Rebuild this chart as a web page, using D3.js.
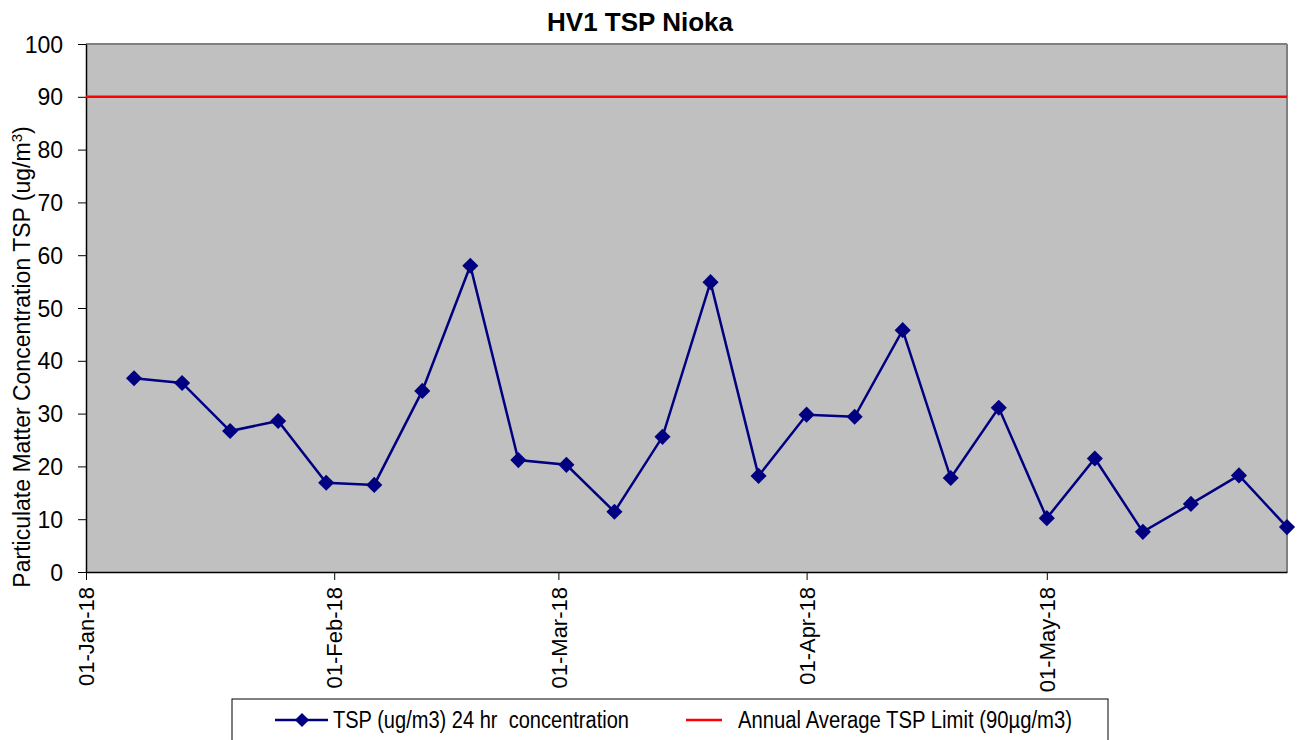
<!DOCTYPE html>
<html><head><meta charset="utf-8">
<script src="https://cdn.jsdelivr.net/npm/d3@7"></script>
<style>
body{margin:0;background:#fff;}
svg text{font-family:"Liberation Sans Narrow","Arial Narrow","Liberation Sans",Arial,sans-serif;}
</style></head>
<body><svg id="c" width="1301" height="740"></svg>
<script>
const dates = ["2018-01-07","2018-01-13","2018-01-19","2018-01-25","2018-01-31","2018-02-06","2018-02-12","2018-02-18","2018-02-24","2018-03-02","2018-03-08","2018-03-14","2018-03-20","2018-03-26","2018-04-01","2018-04-07","2018-04-13","2018-04-19","2018-04-25","2018-05-01","2018-05-07","2018-05-13","2018-05-19","2018-05-25","2018-05-31"];
const tsp = [36.7,35.8,26.7,28.6,16.9,16.5,34.3,58.0,21.2,20.3,11.4,25.6,54.9,18.2,29.8,29.4,45.8,17.8,31.1,10.2,21.5,7.6,12.9,18.3,8.5];
const limit = 90;
const xTicks = ["2018-01-01","2018-02-01","2018-03-01","2018-04-01","2018-05-01"];
const yTicks = [0,10,20,30,40,50,60,70,80,90,100];
const title = "HV1 TSP Nioka";
const yLabel = "Particulate Matter Concentration TSP (ug/m";
const series1Name = "TSP (ug/m3) 24 hr  concentration";
const series2Name = "Annual Average TSP Limit (90µg/m3)";

const parse = d3.utcParse("%Y-%m-%d");
const fmt = d3.utcFormat("%d-%b-%y");
const svg = d3.select("#c");
const L=86,R=1287,T=44,B=572;
const x = d3.scaleUtc().domain([parse("2018-01-01"),parse("2018-05-31")]).range([L,R]);
const y = d3.scaleLinear().domain([0,100]).range([B,T]);

svg.append("rect").attr("x",L).attr("y",T).attr("width",R-L).attr("height",B-T).attr("fill","#C0C0C0");
svg.append("line").attr("x1",L).attr("x2",R).attr("y1",T).attr("y2",T).attr("stroke","#808080").attr("stroke-width",2);
svg.append("line").attr("x1",R).attr("x2",R).attr("y1",T).attr("y2",B).attr("stroke","#808080").attr("stroke-width",2);

// title
svg.append("text").attr("x",640).attr("y",31).attr("text-anchor","middle")
  .style("font-family","'Liberation Sans',Arial,sans-serif").style("font-weight","bold").style("font-size","26px").text(title);

// y axis
const ya = svg.append("g").attr("transform",`translate(${L},0)`)
  .call(d3.axisLeft(y).tickValues(yTicks).tickSize(8).tickSizeOuter(0).tickPadding(15));
ya.select(".domain").attr("stroke","#000").attr("stroke-width",1.5);
ya.selectAll(".tick line").attr("stroke","#000");
ya.selectAll("text").style("font-size","23px").attr("fill","#000").attr("dy","0.35em");

// x axis
const xa = svg.append("g").attr("transform",`translate(0,${B})`)
  .call(d3.axisBottom(x).tickValues(xTicks.map(parse)).tickFormat(fmt).tickSize(8).tickSizeOuter(0));
xa.select(".domain").attr("stroke","#000").attr("stroke-width",1.5);
xa.selectAll(".tick line").attr("stroke","#000");
xa.selectAll("text").style("font-size","22px").attr("fill","#000")
  .attr("transform","rotate(-90)").attr("text-anchor","end").attr("x",-15).attr("y",0).attr("dy","0.35em");

// y label
const yl = svg.append("text").attr("transform","translate(30,357) rotate(-90)").attr("text-anchor","middle")
  .style("font-size","23px").attr("fill","#000");
yl.append("tspan").text(yLabel);
yl.append("tspan").attr("dy","-8").style("font-size","15px").text("3");
yl.append("tspan").attr("dy","8").text(")");

// limit line
svg.append("line").attr("x1",L).attr("x2",R).attr("y1",y(limit)).attr("y2",y(limit)).attr("stroke","#FF0000").attr("stroke-width",2.5);

// series
const data = dates.map((d,i)=>({d:parse(d),v:tsp[i]}));
svg.append("path").datum(data).attr("fill","none").attr("stroke","#000080").attr("stroke-width",2.5)
  .attr("d",d3.line().x(d=>x(d.d)).y(d=>y(d.v)));
const diamond = d3.symbol().type(d3.symbolSquare).size(130);
svg.selectAll(".pt").data(data).enter().append("path").attr("d",diamond)
  .attr("transform",d=>`translate(${x(d.d)},${y(d.v)}) rotate(45)`).attr("fill","#000080");

// legend
const ly = 720;
svg.append("rect").attr("x",232).attr("y",699).attr("width",876).attr("height",55).attr("fill","#fff").attr("stroke","#000").attr("stroke-width",1);
svg.append("line").attr("x1",275).attr("x2",328).attr("y1",ly).attr("y2",ly).attr("stroke","#000080").attr("stroke-width",2.5);
svg.append("path").attr("d",d3.symbol().type(d3.symbolSquare).size(100)).attr("transform",`translate(302,${ly}) rotate(45)`).attr("fill","#000080");
svg.append("text").attr("x",333).attr("y",ly).attr("dy","0.35em").style("font-size","23px")
  .attr("textLength",296).attr("lengthAdjust","spacingAndGlyphs").attr("xml:space","preserve").text(series1Name);
svg.append("line").attr("x1",686).attr("x2",722).attr("y1",ly).attr("y2",ly).attr("stroke","#FF0000").attr("stroke-width",2.5);
svg.append("text").attr("x",738).attr("y",ly).attr("dy","0.35em").style("font-size","23px")
  .attr("textLength",334).attr("lengthAdjust","spacingAndGlyphs").text(series2Name);
</script></body></html>
